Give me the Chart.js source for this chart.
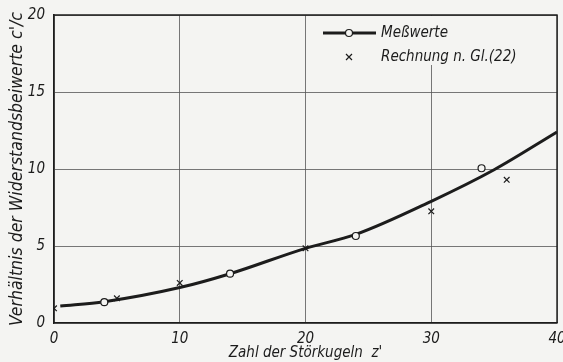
<!DOCTYPE html>
<html>
<head>
<meta charset="utf-8">
<script src="https://cdn.jsdelivr.net/npm/chart.js@4"></script>
<style>
  html, body { margin: 0; padding: 0; background: #f4f4f2; }
  #wrap { width: 563px; height: 362px; }
</style>
</head>
<body>
<div id="wrap"><canvas id="myChart" width="563" height="362"></canvas></div>
<script>
// measured values (circles)
const measX = [4, 14, 24, 34];
const measY = [1.35, 3.2, 5.65, 10.05];
// calculated values n. Gl.(22) (crosses)
const calcX = [0, 5, 10, 20, 30, 36];
const calcY = [0.95, 1.6, 2.6, 4.85, 7.25, 9.3];
// smooth curve through measurements
const curveX = [0.5, 4, 10, 14, 20, 24, 30, 35, 40];
const curveY = [1.1, 1.38, 2.3, 3.2, 4.85, 5.75, 7.9, 9.95, 12.4];
const xTicks = [0, 10, 20, 30, 40];
const yTicks = [0, 5, 10, 15, 20];

const fontFamily = "'Liberation Sans Narrow', 'DejaVu Sans Condensed', 'Noto Sans', sans-serif";
const ink = "#1c1c1c";
const paper = "#f4f4f2";

function toPoints(xs, ys) {
    return xs.map((x, i) => ({ x: x, y: ys[i] }));
}

// legend drawn inside the plot, top right (covers the grid, not the frame)
const legendBox = {
    id: "legendBox",
    beforeDatasetsDraw(chart) {
        const c = chart.ctx;
        const a = chart.chartArea;
        const x0 = a.right - 234, y0 = a.top + 18;
        c.save();
        c.fillStyle = paper;
        c.fillRect(a.right - 245, a.top + 1, 244, 49);
        // line with circle
        c.strokeStyle = ink;
        c.lineWidth = 3;
        c.beginPath();
        c.moveTo(x0, y0);
        c.lineTo(x0 + 53, y0);
        c.stroke();
        c.lineWidth = 1.2;
        c.fillStyle = paper;
        c.beginPath();
        c.arc(x0 + 26, y0, 3.5, 0, Math.PI * 2);
        c.fill();
        c.stroke();
        // cross
        c.beginPath();
        c.moveTo(x0 + 23, y0 + 21); c.lineTo(x0 + 29, y0 + 27);
        c.moveTo(x0 + 29, y0 + 21); c.lineTo(x0 + 23, y0 + 27);
        c.stroke();
        c.fillStyle = ink;
        c.font = "italic 15px " + fontFamily;
        c.textBaseline = "middle";
        c.fillText("Meßwerte", x0 + 58, y0);
        c.fillText("Rechnung n. Gl.(22)", x0 + 58, y0 + 24);
        c.restore();
    },
    afterDatasetsDraw(chart) {
        // top and right edges of the plot frame
        const a = chart.chartArea;
        const c = chart.ctx;
        c.save();
        c.strokeStyle = ink;
        c.lineWidth = 1.4;
        c.beginPath();
        c.moveTo(a.left, a.top);
        c.lineTo(a.right, a.top);
        c.lineTo(a.right, a.bottom);
        c.stroke();
        c.restore();
    }
};

const ctx = document.getElementById("myChart").getContext("2d");
const myChart = new Chart(ctx, {
    type: "scatter",
    data: {
        datasets: [
            {
                label: "Kurve",
                data: toPoints(curveX, curveY),
                showLine: true,
                borderColor: ink,
                borderWidth: 3,
                pointRadius: 0,
                cubicInterpolationMode: "monotone",
                order: 3
            },
            {
                label: "Meßwerte",
                data: toPoints(measX, measY),
                pointStyle: "circle",
                pointRadius: 3.5,
                pointBackgroundColor: paper,
                pointBorderColor: ink,
                pointBorderWidth: 1.2,
                order: 1
            },
            {
                label: "Rechnung n. Gl.(22)",
                data: toPoints(calcX, calcY),
                pointStyle: "crossRot",
                pointRadius: 4,
                pointBorderColor: ink,
                pointBorderWidth: 1.2,
                order: 2
            }
        ]
    },
    options: {
        responsive: false,
        animation: false,
        layout: { padding: { top: 15, right: 6, left: 0, bottom: 0 } },
        plugins: {
            legend: { display: false },
            tooltip: { enabled: false }
        },
        scales: {
            x: {
                type: "linear",
                min: 0,
                max: 40,
                afterBuildTicks: (axis) => { axis.ticks = xTicks.map(v => ({ value: v })); },
                afterFit: (axis) => { axis.height = 39; axis.paddingLeft = 0; axis.paddingRight = 0; },
                grid: { color: "#555", lineWidth: 0.8, drawTicks: false },
                border: { color: ink, width: 1.6 },
                ticks: {
                    color: ink,
                    padding: 7,
                    maxRotation: 0,
                    font: { family: fontFamily, size: 15, style: "italic" }
                },
                title: {
                    display: true,
                    text: "Zahl der Störkugeln  z'",
                    color: ink,
                    padding: { top: 0, bottom: 0 },
                    font: { family: fontFamily, size: 15, style: "italic" }
                }
            },
            y: {
                min: 0,
                max: 20,
                afterBuildTicks: (axis) => { axis.ticks = yTicks.map(v => ({ value: v })); },
                afterFit: (axis) => { axis.width = 54; axis.paddingTop = 0; axis.paddingBottom = 0; },
                grid: { color: "#555", lineWidth: 0.8, drawTicks: false },
                border: { color: ink, width: 1.6 },
                ticks: {
                    color: ink,
                    padding: 9,
                    font: { family: fontFamily, size: 15, style: "italic" }
                },
                title: {
                    display: true,
                    text: "Verhältnis der Widerstandsbeiwerte c'/c",
                    color: ink,
                    padding: { top: 7, bottom: 0 },
                    font: { family: fontFamily, size: 17.5, style: "italic" }
                }
            }
        }
    },
    plugins: [legendBox]
});
</script>
</body>
</html>
